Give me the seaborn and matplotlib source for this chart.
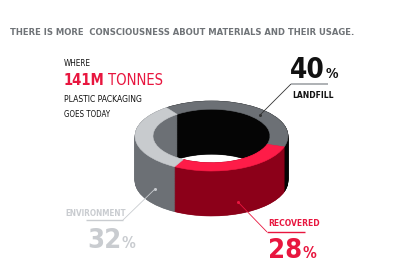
import numpy as np
import matplotlib
matplotlib.use("Agg")
import matplotlib.pyplot as plt
from matplotlib import font_manager as fm
from matplotlib.lines import Line2D
import seaborn as sns

# ---- data ----
categories = ["LANDFILL", "RECOVERED", "ENVIRONMENT"]
shares = [40, 28, 32]
pct_labels = ["40", "28", "32"]
top_colors = ["#6c7075", "#fe1c48", "#c8cbce"]
side_colors = ["#050505", "#8c0019", "#6c7075"]
title = "THERE IS MORE  CONSCIOUSNESS ABOUT MATERIALS AND THEIR USAGE."
intro_lines = ["WHERE", "141M", "TONNES", "PLASTIC PACKAGING", "GOES TODAY"]

sns.set_style("white")
plt.rcParams["font.family"] = ["DejaVu Sans"]

# ---- find a condensed font if one is installed ----
COND = ("condensed", "semi-condensed", "extra-condensed", "ultra-condensed")
cands = [f for f in fm.fontManager.ttflist
         if f.stretch in COND or "narrow" in f.name.lower() or "condensed" in f.name.lower()
         or "condensed" in f.fname.lower() or "narrow" in f.fname.lower()]


def wnum(w):
    try:
        return int(w)
    except Exception:
        return {"bold": 700, "normal": 400, "regular": 400, "book": 400,
                "medium": 500, "semibold": 600, "demibold": 600,
                "light": 300}.get(str(w).lower(), 400)


def pick(bold):
    pref = [f for f in cands if "extra" not in f.fname.lower() and "ultra" not in f.fname.lower()
            and "italic" not in f.fname.lower() and "oblique" not in f.fname.lower()
            and f.style == "normal"]
    if not pref:
        return None
    target = 700 if bold else 400
    pref.sort(key=lambda f: (abs(wnum(f.weight) - target), "semi" in f.fname.lower()))
    return fm.FontProperties(fname=pref[0].fname)


FP_B = pick(True)
FP_R = pick(False)
HAVE_COND = FP_B is not None
if not HAVE_COND:
    FP_B = fm.FontProperties(family="DejaVu Sans", weight="bold")
    FP_R = fm.FontProperties(family="DejaVu Sans", weight="normal")

W, H = 400, 271
fig = plt.figure(figsize=(W / 100, H / 100), dpi=100)
fig.patch.set_facecolor("white")
ax = fig.add_axes([0, 0, 1, 1])

# ring geometry (units: outer radius = 1)
cx_px, cy_px = 211.5, 136.0
ax_px, ay_px = 76.5, 35.0
hole = 0.765
height = 45.0 / ay_px
start = 126

wp = dict(width=1 - hole, linewidth=0.4)
for d in np.linspace(height, 0.0, 110):
    wedges, _ = ax.pie(shares, colors=side_colors, startangle=start, counterclock=False,
                       center=(0, -d), radius=1, wedgeprops=wp)
    for w, c in zip(wedges, side_colors):
        w.set_edgecolor(c)
wedges, _ = ax.pie(shares, colors=top_colors, startangle=start, counterclock=False,
                   center=(0, 0), radius=1, wedgeprops=wp)
for w, c in zip(wedges, top_colors):
    w.set_edgecolor(c)

ax.set_aspect("auto")
ax.set_xlim(-cx_px / ax_px, (W - cx_px) / ax_px)
ax.set_ylim(-(H - cy_px) / ay_px, cy_px / ay_px)
ax.axis("off")

renderer = fig.canvas.get_renderer()


def fx(x):
    return x / W


def fy(y):
    return 1 - y / H


def fit_text(s, x, yb, width, cap, color, bold=True, slack=1.0):
    fp = (FP_B if bold else FP_R).copy()
    fp.set_size(10)
    t = fig.text(fx(x), fy(yb), s, fontproperties=fp, color=color,
                 ha="left", va="baseline")
    bb = t.get_window_extent(renderer)
    fs_w = 10 * width / bb.width
    fs_h = cap  # cap height px -> points at 100 dpi (cap ~0.72 em)
    fs = min(fs_h, fs_w * slack)
    t.set_fontsize(fs)
    return t


RED = "#e8163f"
GREY_T = "#6f7377"
LIGHT = "#c9ccd0"
BLK = "#111111"

fit_text(title, 10, 35, 342, 10, GREY_T)

fit_text(intro_lines[0], 64, 66, 26, 8, BLK, bold=False, slack=1.05)
t141 = fit_text(intro_lines[1], 64, 85, 39, 13, RED, slack=1.05)
x2 = t141.get_window_extent(renderer).x1 + 3
fit_text(intro_lines[2], x2, 85, 53, 13, RED, bold=False, slack=1.05)
fit_text(intro_lines[3], 64, 101.7, 75, 8.5, BLK, bold=False, slack=1.05)
fit_text(intro_lines[4], 64, 116.7, 44, 8.5, BLK, bold=False, slack=1.05)

# landfill
t = fit_text(pct_labels[0], 290, 78, 32, 20, BLK, slack=1.1)
fit_text("%", t.get_window_extent(renderer).x1 + 0.5, 78, 13, 10, BLK, slack=1.1)
fit_text(categories[0], 292, 98, 39, 8, BLK, slack=1.05)
# environment
fit_text(categories[2], 65, 216, 58, 8, LIGHT, slack=1.05)
t = fit_text(pct_labels[2], 87, 248, 31, 23, LIGHT, slack=1.1)
fit_text("%", t.get_window_extent(renderer).x1 + 0.5, 248, 13, 11, LIGHT, slack=1.1)
# recovered
fit_text(categories[1], 268, 226, 49, 9, RED, slack=1.05)
t = fit_text(pct_labels[1], 268, 258, 31, 21, RED, slack=1.1)
fit_text("%", t.get_window_extent(renderer).x1 + 0.5, 258, 13, 11, RED, slack=1.1)


def seg(p, q, color, lw):
    fig.add_artist(Line2D([fx(p[0]), fx(q[0])], [fy(p[1]), fy(q[1])],
                          transform=fig.transFigure, color=color, lw=lw,
                          solid_capstyle="butt"))


def dot(p, color):
    fig.add_artist(Line2D([fx(p[0])], [fy(p[1])], transform=fig.transFigure,
                          marker="o", ms=2.2, color=color, mec="none"))


seg((260, 115), (291, 84), "#333333", 0.6)
seg((291, 84), (328, 84), "#aeb1b4", 1.4)
dot((260, 115), "#333333")

seg((155, 189), (123, 220), LIGHT, 0.6)
seg((86, 220), (123, 220), LIGHT, 1.0)
dot((155, 189), LIGHT)

seg((238, 202), (267, 232), RED, 0.6)
seg((267, 232), (305, 232), RED, 1.0)
dot((238, 202), RED)

fig.savefig("out.png", dpi=100, facecolor="white")
